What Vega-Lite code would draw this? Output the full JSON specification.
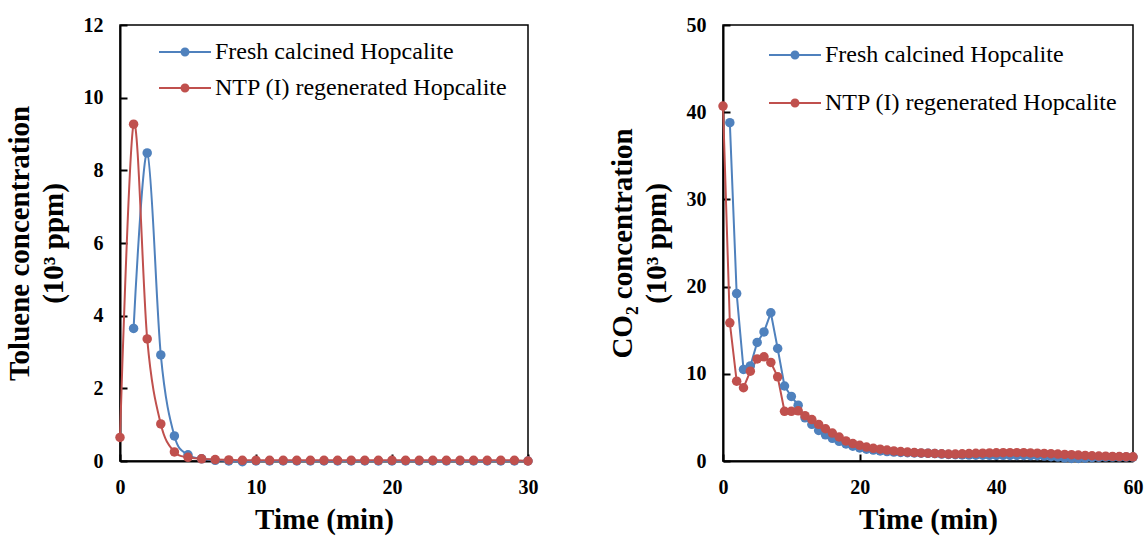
{
  "$schema": "https://vega.github.io/schema/vega-lite/v6.json",
  "background": "white",
  "padding": {"left": 4, "top": 14, "right": 5, "bottom": 5},
  "spacing": 195,
  "bounds": "flush",
  "config": {
    "font": "Liberation Serif",
    "view": {"stroke": "black", "strokeWidth": 1.5},
    "axis": {"grid": false, "domainColor": "black", "domainWidth": 2, "tickColor": "black", "tickWidth": 2, "tickSize": -7, "labelFlush": false,
      "labelFont": "Liberation Serif", "labelFontWeight": "bold", "labelFontSize": 20, "labelColor": "black",
      "titleFont": "Liberation Serif", "titleFontSize": 29, "titleFontWeight": "bold", "titleColor": "black", "titleLineHeight": 34},
    "legend": {"symbolType": "M-1,-0.2H9.4V0.2H-1Z M3.3,0A0.9,0.9 0 1,1 5.1,0A0.9,0.9 0 1,1 3.3,0Z", "symbolSize": 100, "symbolStrokeWidth": 0, "symbolOpacity": 1,
      "labelFont": "Liberation Serif", "labelFontSize": 24, "labelFontWeight": "normal", "labelColor": "black", "labelOffset": 39, "labelLimit": 0}
  },
  "resolve": {"scale": {"color": "independent", "x": "independent", "y": "independent"}, "legend": {"color": "independent"}},
  "hconcat": [
    {
      "width": 408, "height": 436,
      "data": {"values": [
        {"t":1,"c":3.65,"s":"F"},{"t":2,"c":8.48,"s":"F"},{"t":3,"c":2.92,"s":"F"},{"t":4,"c":0.69,"s":"F"},{"t":5,"c":0.17,"s":"F"},{"t":6,"c":0.06,"s":"F"},{"t":7,"c":0.02,"s":"F"},{"t":8,"c":0.0,"s":"F"},{"t":9,"c":-0.02,"s":"F"},{"t":10,"c":0,"s":"F"},
        {"t":11,"c":0,"s":"F"},{"t":12,"c":0,"s":"F"},{"t":13,"c":0,"s":"F"},{"t":14,"c":0,"s":"F"},{"t":15,"c":0,"s":"F"},{"t":16,"c":0,"s":"F"},{"t":17,"c":0,"s":"F"},{"t":18,"c":0,"s":"F"},{"t":19,"c":0,"s":"F"},{"t":20,"c":0,"s":"F"},
        {"t":21,"c":0,"s":"F"},{"t":22,"c":0,"s":"F"},{"t":23,"c":0,"s":"F"},{"t":24,"c":0,"s":"F"},{"t":25,"c":0,"s":"F"},{"t":26,"c":0,"s":"F"},{"t":27,"c":0,"s":"F"},{"t":28,"c":0,"s":"F"},{"t":29,"c":0,"s":"F"},{"t":30,"c":0,"s":"F"},
        {"t":0,"c":0.65,"s":"N"},{"t":1,"c":9.27,"s":"N"},{"t":2,"c":3.36,"s":"N"},{"t":3,"c":1.02,"s":"N"},{"t":4,"c":0.25,"s":"N"},{"t":5,"c":0.1,"s":"N"},{"t":6,"c":0.06,"s":"N"},{"t":7,"c":0.04,"s":"N"},{"t":8,"c":0.03,"s":"N"},{"t":9,"c":0.02,"s":"N"},{"t":10,"c":0.02,"s":"N"},
        {"t":11,"c":0.02,"s":"N"},{"t":12,"c":0.02,"s":"N"},{"t":13,"c":0.02,"s":"N"},{"t":14,"c":0.02,"s":"N"},{"t":15,"c":0.02,"s":"N"},{"t":16,"c":0.02,"s":"N"},{"t":17,"c":0.02,"s":"N"},{"t":18,"c":0.02,"s":"N"},{"t":19,"c":0.02,"s":"N"},{"t":20,"c":0.02,"s":"N"},
        {"t":21,"c":0.02,"s":"N"},{"t":22,"c":0.02,"s":"N"},{"t":23,"c":0.02,"s":"N"},{"t":24,"c":0.02,"s":"N"},{"t":25,"c":0.02,"s":"N"},{"t":26,"c":0.02,"s":"N"},{"t":27,"c":0.02,"s":"N"},{"t":28,"c":0.02,"s":"N"},{"t":29,"c":0.02,"s":"N"},{"t":30,"c":0.0,"s":"N"}
      ]},
      "encoding": {
        "x": {"field": "t", "type": "quantitative", "scale": {"domain": [0, 30]}, "axis": {"values": [0, 10, 20, 30], "title": "Time (min)", "labelPadding": 23, "titlePadding": 8}},
        "y": {"field": "c", "type": "quantitative", "scale": {"domain": [0, 12]}, "axis": {"values": [0, 2, 4, 6, 8, 10, 12], "title": ["Toluene concentration", "(10³ ppm)"], "labelPadding": 24, "titlePadding": 15}},
        "color": {"field": "s", "type": "nominal", "scale": {"domain": ["F", "N"], "range": ["#4F81BD", "#C0504D"]},
          "legend": {"orient": "none", "legendX": 32, "legendY": 15, "title": null, "rowPadding": 12,
            "labelExpr": "datum.label == 'F' ? 'Fresh calcined Hopcalite' : 'NTP (I) regenerated Hopcalite'"}}
      },
      "layer": [
        {"mark": {"type": "line", "interpolate": "cardinal", "strokeWidth": 2}},
        {"mark": {"type": "point", "filled": true, "size": 90, "opacity": 1}}
      ]
    },
    {
      "width": 410, "height": 436,
      "data": {"values": [
        {"t":1,"c":38.8,"s":"F"},{"t":2,"c":19.2,"s":"F"},{"t":3,"c":10.5,"s":"F"},{"t":4,"c":10.9,"s":"F"},{"t":5,"c":13.6,"s":"F"},{"t":6,"c":14.8,"s":"F"},{"t":7,"c":17.0,"s":"F"},{"t":8,"c":12.9,"s":"F"},{"t":9,"c":8.6,"s":"F"},{"t":10,"c":7.4,"s":"F"},
        {"t":11,"c":6.4,"s":"F"},{"t":12,"c":4.95,"s":"F"},{"t":13,"c":4.2,"s":"F"},{"t":14,"c":3.5,"s":"F"},{"t":15,"c":3.0,"s":"F"},{"t":16,"c":2.6,"s":"F"},{"t":17,"c":2.25,"s":"F"},{"t":18,"c":1.95,"s":"F"},{"t":19,"c":1.7,"s":"F"},{"t":20,"c":1.5,"s":"F"},
        {"t":21,"c":1.35,"s":"F"},{"t":22,"c":1.25,"s":"F"},{"t":23,"c":1.15,"s":"F"},{"t":24,"c":1.08,"s":"F"},{"t":25,"c":1.02,"s":"F"},{"t":26,"c":0.98,"s":"F"},{"t":27,"c":0.95,"s":"F"},{"t":28,"c":0.92,"s":"F"},{"t":29,"c":0.9,"s":"F"},{"t":30,"c":0.88,"s":"F"},
        {"t":31,"c":0.85,"s":"F"},{"t":32,"c":0.8,"s":"F"},{"t":33,"c":0.75,"s":"F"},{"t":34,"c":0.72,"s":"F"},{"t":35,"c":0.7,"s":"F"},{"t":36,"c":0.68,"s":"F"},{"t":37,"c":0.67,"s":"F"},{"t":38,"c":0.66,"s":"F"},{"t":39,"c":0.65,"s":"F"},{"t":40,"c":0.65,"s":"F"},
        {"t":41,"c":0.65,"s":"F"},{"t":42,"c":0.64,"s":"F"},{"t":43,"c":0.64,"s":"F"},{"t":44,"c":0.63,"s":"F"},{"t":45,"c":0.62,"s":"F"},{"t":46,"c":0.6,"s":"F"},{"t":47,"c":0.56,"s":"F"},{"t":48,"c":0.5,"s":"F"},{"t":49,"c":0.45,"s":"F"},{"t":50,"c":0.35,"s":"F"},
        {"t":51,"c":0.3,"s":"F"},{"t":52,"c":0.3,"s":"F"},{"t":53,"c":0.32,"s":"F"},{"t":54,"c":0.38,"s":"F"},{"t":55,"c":0.42,"s":"F"},{"t":56,"c":0.45,"s":"F"},{"t":57,"c":0.45,"s":"F"},{"t":58,"c":0.45,"s":"F"},{"t":59,"c":0.45,"s":"F"},{"t":60,"c":0.45,"s":"F"},
        {"t":0,"c":40.7,"s":"N"},{"t":1,"c":15.85,"s":"N"},{"t":2,"c":9.15,"s":"N"},{"t":3,"c":8.4,"s":"N"},{"t":4,"c":10.3,"s":"N"},{"t":5,"c":11.7,"s":"N"},{"t":6,"c":11.95,"s":"N"},{"t":7,"c":11.3,"s":"N"},{"t":8,"c":9.65,"s":"N"},{"t":9,"c":5.7,"s":"N"},{"t":10,"c":5.7,"s":"N"},
        {"t":11,"c":5.75,"s":"N"},{"t":12,"c":5.2,"s":"N"},{"t":13,"c":4.75,"s":"N"},{"t":14,"c":4.2,"s":"N"},{"t":15,"c":3.7,"s":"N"},{"t":16,"c":3.2,"s":"N"},{"t":17,"c":2.75,"s":"N"},{"t":18,"c":2.3,"s":"N"},{"t":19,"c":2.0,"s":"N"},{"t":20,"c":1.8,"s":"N"},
        {"t":21,"c":1.6,"s":"N"},{"t":22,"c":1.45,"s":"N"},{"t":23,"c":1.35,"s":"N"},{"t":24,"c":1.25,"s":"N"},{"t":25,"c":1.15,"s":"N"},{"t":26,"c":1.08,"s":"N"},{"t":27,"c":1.02,"s":"N"},{"t":28,"c":0.97,"s":"N"},{"t":29,"c":0.93,"s":"N"},{"t":30,"c":0.9,"s":"N"},
        {"t":31,"c":0.86,"s":"N"},{"t":32,"c":0.83,"s":"N"},{"t":33,"c":0.8,"s":"N"},{"t":34,"c":0.8,"s":"N"},{"t":35,"c":0.82,"s":"N"},{"t":36,"c":0.85,"s":"N"},{"t":37,"c":0.88,"s":"N"},{"t":38,"c":0.9,"s":"N"},{"t":39,"c":0.92,"s":"N"},{"t":40,"c":0.94,"s":"N"},
        {"t":41,"c":0.95,"s":"N"},{"t":42,"c":0.96,"s":"N"},{"t":43,"c":0.96,"s":"N"},{"t":44,"c":0.95,"s":"N"},{"t":45,"c":0.93,"s":"N"},{"t":46,"c":0.9,"s":"N"},{"t":47,"c":0.87,"s":"N"},{"t":48,"c":0.84,"s":"N"},{"t":49,"c":0.8,"s":"N"},{"t":50,"c":0.76,"s":"N"},
        {"t":51,"c":0.72,"s":"N"},{"t":52,"c":0.68,"s":"N"},{"t":53,"c":0.64,"s":"N"},{"t":54,"c":0.6,"s":"N"},{"t":55,"c":0.57,"s":"N"},{"t":56,"c":0.55,"s":"N"},{"t":57,"c":0.53,"s":"N"},{"t":58,"c":0.51,"s":"N"},{"t":59,"c":0.5,"s":"N"},{"t":60,"c":0.48,"s":"N"}
      ]},
      "encoding": {
        "x": {"field": "t", "type": "quantitative", "scale": {"domain": [0, 60]}, "axis": {"values": [0, 20, 40, 60], "title": "Time (min)", "labelPadding": 23, "titlePadding": 8}},
        "y": {"field": "c", "type": "quantitative", "scale": {"domain": [0, 50]}, "axis": {"values": [0, 10, 20, 30, 40, 50], "title": ["CO₂ concentration", "(10³ ppm)"], "labelPadding": 24, "titlePadding": 15}},
        "color": {"field": "s", "type": "nominal", "scale": {"domain": ["F", "N"], "range": ["#4F81BD", "#C0504D"]},
          "legend": {"orient": "none", "legendX": 39, "legendY": 18, "title": null, "rowPadding": 24,
            "labelExpr": "datum.label == 'F' ? 'Fresh calcined Hopcalite' : 'NTP (I) regenerated Hopcalite'"}}
      },
      "layer": [
        {"mark": {"type": "line", "strokeWidth": 2}},
        {"mark": {"type": "point", "filled": true, "size": 90, "opacity": 1}}
      ]
    }
  ]
}
